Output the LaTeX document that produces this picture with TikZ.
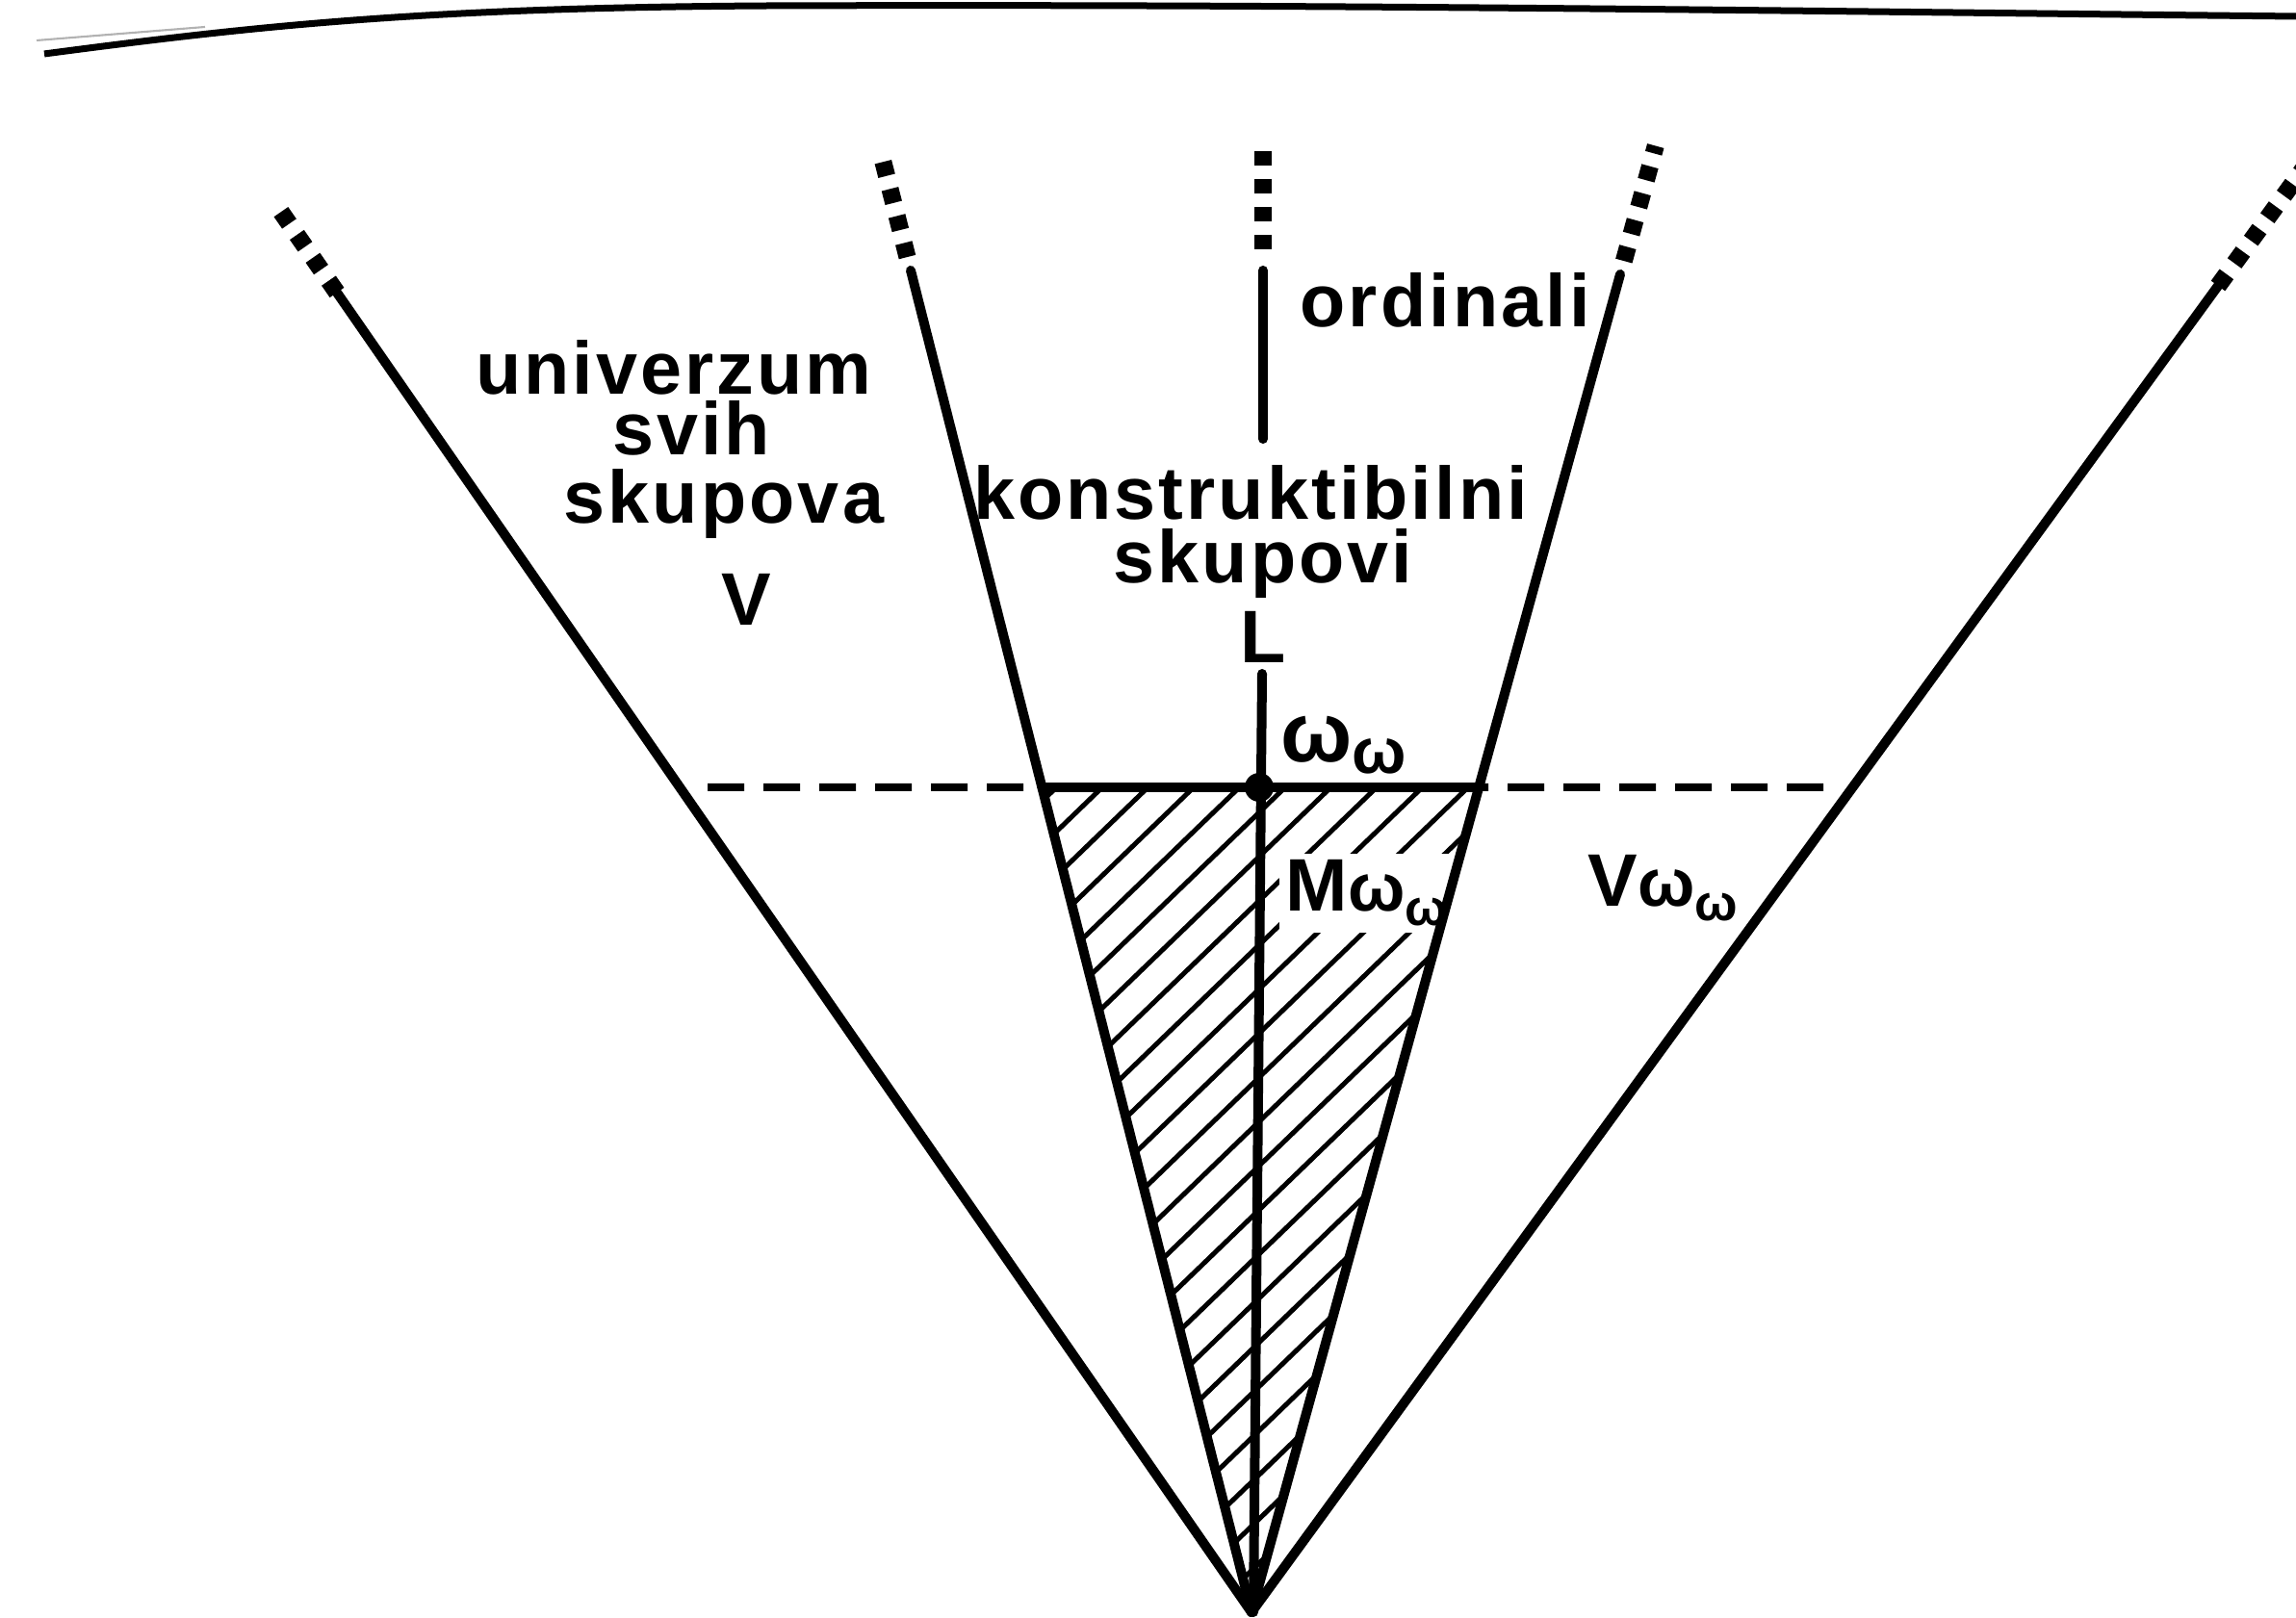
\documentclass[tikz,border=0pt]{standalone}
\usepackage{fontspec}
\setmainfont{Liberation Sans}[LetterSpace=4]
\usetikzlibrary{calc,positioning}
\newcommand{\omom}[3]{{\fontsize{#1}{#1}\selectfont ω}\raisebox{-#3}{\fontsize{#2}{#2}\selectfont ω}}

\begin{document}
\begin{tikzpicture}[
    ray/.style={line width=0.1cm, line cap=round},
    raydots/.style={line width=0.18cm, dash pattern=on 0.15cm off 0.14cm},
    level/.style={line width=0.08cm, dash pattern=on 0.38cm off 0.2cm},
    hatch/.style={line width=0.05cm},
    lab/.style={inner sep=0pt, font=\fontsize{22}{24}\selectfont\bfseries}
  ]
  \useasboundingbox (0,0) rectangle (23.85,16.8);

  % page edge at the top
  \draw[line width=0.07cm] (0.46,16.24) .. controls (2.8,16.55) and (4.5,16.72) .. (8.0,16.74)
    .. controls (14,16.76) and (19,16.68) .. (23.85,16.63);
  \draw[gray!60, line width=0.6pt] (0.38,16.38) -- (2.13,16.52);

  \coordinate (apex) at (13.00,0.05);
  \coordinate (olTop) at (3.50,13.76);
  \coordinate (ilTop) at (9.46,13.99);
  \coordinate (irTop) at (16.83,13.95);
  \coordinate (orTop) at (23.04,13.83);
  \coordinate (cTop) at (13.12,13.99);
  \coordinate (cBot) at (13.02,0.05);

  \coordinate (ml) at (intersection of apex--ilTop and 0,8.62--1,8.62);
  \coordinate (mr) at (intersection of apex--irTop and 0,8.62--1,8.62);
  \coordinate (dl) at (7.35,8.62);
  \coordinate (dr) at (18.94,8.62);

  % M_omega_omega
  \begin{scope}
    \clip (ml) -- (mr) -- (apex) -- cycle;
    \foreach \k in {-26,...,26}
      \draw[hatch, shift={(134:{0.33*\k})}] (13.11,7.93) ++(224:9) -- ++(44:18);
  \end{scope}
  \node[lab, fill=white, inner sep=2pt, anchor=base west] (mset) at (13.28,7.33)
    {M\omom{20}{15}{4pt}};

  % rays
  \draw[ray] (apex) -- (olTop);
  \draw[ray] (apex) -- (ilTop);
  \draw[ray] (apex) -- (irTop);
  \draw[ray] (apex) -- (orTop);
  \draw[raydots] (olTop) -- ($(apex)!1.066!(olTop)$);
  \draw[raydots] ($(apex)!1.01!(ilTop)$) -- ($(apex)!1.089!(ilTop)$);
  \draw[raydots] ($(apex)!1.01!(irTop)$) -- ($(apex)!1.096!(irTop)$);
  \draw[raydots] (orTop) -- ($(apex)!1.091!(orTop)$);

  % ordinals
  \draw[raydots] (13.12,15.23) -- (13.12,14.12);
  \draw[ray] (cTop) -- (13.12,12.24);
  \draw[ray] (13.11,9.80) -- (cBot);

  \draw[level] (dl) -- (ml);
  \draw[level] (dr) -- (mr);
  \draw[ray] (ml) -- (mr);
  \node[circle, fill, inner sep=0pt, minimum size=0.3cm] (oo) at (13.08,8.62) {};

  \node[lab, anchor=base] (univ) at (7.00,12.70) {univerzum};
  \node[lab, anchor=base] (svih) at (7.18,12.07) {svih};
  \node[lab, anchor=base] (skupova) at (7.52,11.36) {skupova};
  \node[lab, anchor=base] (vset) at (7.75,10.30) {V};
  \node[lab, anchor=base west] (ord) at (13.50,13.40) {ordinali};
  \node[lab, anchor=base] (konstr) at (12.99,11.40) {konstruktibilni};
  \node[lab, anchor=base] (skupovi) at (13.12,10.74) {skupovi};
  \node[lab, anchor=base] (lset) at (13.12,9.91) {L};
  \node[lab, anchor=base west] (oolab) at (13.30,8.88) {\omom{25}{19}{3.2pt}};
  \node[lab, anchor=base west] (vomega) at (16.49,7.38) {V\omom{20}{15}{4pt}};
\end{tikzpicture}
\end{document}
